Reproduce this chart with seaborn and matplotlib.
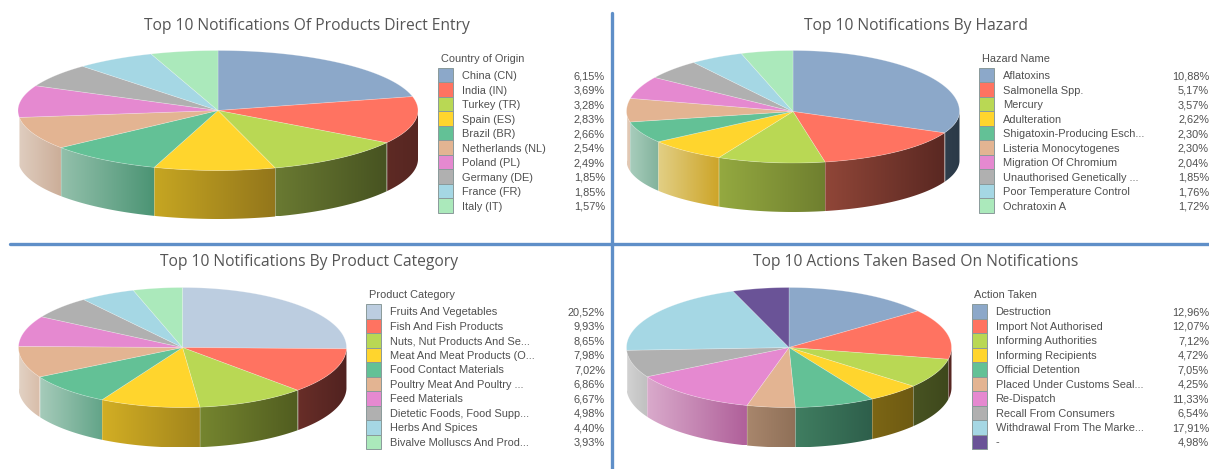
import numpy as np
import matplotlib
matplotlib.use("Agg")
import matplotlib.pyplot as plt
import seaborn as sns
from matplotlib.patches import Rectangle, Polygon

sns.set_theme(style="white")
plt.rcParams['font.family'] = ['Liberation Sans', 'DejaVu Sans']

W, H = 1209, 469

# -------------------------- data --------------------------
origin_names = ["China (CN)", "India (IN)", "Turkey (TR)", "Spain (ES)", "Brazil (BR)",
                "Netherlands (NL)", "Poland (PL)", "Germany (DE)", "France (FR)", "Italy (IT)"]
origin_vals = [6.15, 3.69, 3.28, 2.83, 2.66, 2.54, 2.49, 1.85, 1.85, 1.57]

hazard_names = ["Aflatoxins", "Salmonella Spp.", "Mercury", "Adulteration",
                "Shigatoxin-Producing Esch...", "Listeria Monocytogenes", "Migration Of Chromium",
                "Unauthorised Genetically ...", "Poor Temperature Control", "Ochratoxin A"]
hazard_vals = [10.88, 5.17, 3.57, 2.62, 2.30, 2.30, 2.04, 1.85, 1.76, 1.72]

category_names = ["Fruits And Vegetables", "Fish And Fish Products", "Nuts, Nut Products And Se...",
                  "Meat And Meat Products (O...", "Food Contact Materials", "Poultry Meat And Poultry ...",
                  "Feed Materials", "Dietetic Foods, Food Supp...", "Herbs And Spices",
                  "Bivalve Molluscs And Prod..."]
category_vals = [20.52, 9.93, 8.65, 7.98, 7.02, 6.86, 6.67, 4.98, 4.40, 3.93]

action_names = ["Destruction", "Import Not Authorised", "Informing Authorities", "Informing Recipients",
                "Official Detention", "Placed Under Customs Seal...", "Re-Dispatch", "Recall From Consumers",
                "Withdrawal From The Marke...", "-"]
action_vals = [12.96, 12.07, 7.12, 4.72, 7.05, 4.25, 11.33, 6.54, 17.91, 4.98]

# -------------------------- colours --------------------------
base = ["#8ca8c9", "#ff7361", "#b9d854", "#ffd52d", "#63c196",
        "#e3b492", "#e589d0", "#b0b0b0", "#a5d7e4", "#abe9bb"]
pal_origin = sns.color_palette(base)
pal_category = sns.color_palette(["#bccde0"] + base[1:])
pal_action = sns.color_palette(base[:9] + ["#6a5397"])

# wall colours of each slice: left and right end of the gradient
wall_origin = {1: ("#5e2a24", "#562622"), 2: ("#6a7a32", "#475321"), 3: ("#c6a622", "#93761b"),
               4: ("#93c0ab", "#4b9474"), 5: ("#dfcdbf", "#ccae99")}
wall_hazard = {0: ("#2f3e4c", "#2b3a48"), 1: ("#904638", "#5a2822"), 2: ("#94a940", "#6f7f2f"),
               3: ("#e2cf85", "#cda529"), 4: ("#a8cdbc", "#82b29c"), 5: ("#e3cbb8", "#e0c4ae")}
wall_category = {1: ("#682e28", "#512220"), 2: ("#75852f", "#515d20"), 3: ("#d2ae24", "#a2851c"),
                 4: ("#a6cbba", "#62a488"), 5: ("#e2d2c4", "#d8bca8")}
wall_action = {0: ("#2f3e4c", "#2b3a48"), 1: ("#5a2822", "#562622"), 2: ("#485322", "#3e481c"),
               3: ("#7c6615", "#6e5a12"), 4: ("#407e61", "#2e5f4b"), 5: ("#a8866c", "#8f7058"),
               6: ("#d9aacb", "#b0609a"), 7: ("#d2d2d2", "#c0c0c0")}

panels = [
    dict(title="Top 10 Notifications Of Products Direct Entry", head="Country of Origin",
         names=origin_names, vals=origin_vals, pal=pal_origin, wall=wall_origin,
         box=(0, 0, 612, 243), tx=307, ty=25.5, cx=218, cy=110.5, rx=200, rtop=60, rbot=60, depth=48.5,
         lx=438, ly=68, vx=605),
    dict(title="Top 10 Notifications By Hazard", head="Hazard Name",
         names=hazard_names, vals=hazard_vals, pal=pal_origin, wall=wall_hazard,
         box=(612, 0, 1209, 243), tx=916.5, ty=25.5, cx=793, cy=111.5, rx=166.5, rtop=61, rbot=51.5, depth=49,
         lx=979, ly=68, vx=1209),
    dict(title="Top 10 Notifications By Product Category", head="Product Category",
         names=category_names, vals=category_vals, pal=pal_category, wall=wall_category,
         box=(0, 243, 612, 469), tx=309, ty=262, cx=182.5, cy=347.5, rx=164, rtop=60, rbot=60, depth=40,
         lx=366, ly=304, vx=605),
    dict(title="Top 10 Actions Taken Based On Notifications", head="Action Taken",
         names=action_names, vals=action_vals, pal=pal_action, wall=wall_action,
         box=(612, 243, 1209, 469), tx=916, ty=262, cx=789, cy=347.5, rx=162.5, rtop=60, rbot=60, depth=40,
         lx=971.5, ly=304, vx=1209),
]


def ell(p, t):
    y = np.cos(t)
    return p["cx"] + p["rx"] * np.sin(t), p["cy"] - y * np.where(y > 0, p["rtop"], p["rbot"])


def draw_pie(ax, p):
    edges = np.r_[0, np.cumsum(p["vals"])] / np.sum(p["vals"]) * 2 * np.pi
    # side walls first, only the front half of the ellipse shows
    for i, (cl, cr) in p["wall"].items():
        t1, t2 = max(edges[i], np.pi / 2), min(edges[i + 1], 3 * np.pi / 2)
        if t2 <= t1:
            continue
        ts = np.linspace(t1, t2, 80)
        xs, ys = ell(p, ts)
        outline = np.c_[np.r_[xs, xs[::-1]], np.r_[ys, ys[::-1] + p["depth"]]]
        clip = Polygon(outline, closed=True, facecolor="none", edgecolor="none", transform=ax.transData)
        ax.add_patch(clip)
        grad = np.linspace(matplotlib.colors.to_rgb(cl), matplotlib.colors.to_rgb(cr), 64)[None, :, :]
        im = ax.imshow(grad, extent=(xs.min(), xs.max(), ys.max() + p["depth"], ys.min()),
                       aspect="auto", interpolation="bilinear", zorder=2)
        im.set_clip_path(clip)
        ax.plot([xs[-1], xs[-1]], [ys[-1], ys[-1] + p["depth"]], color="white", alpha=.2, lw=.7, zorder=3)
    # top face
    for i in range(len(p["vals"])):
        ts = np.linspace(edges[i], edges[i + 1], 80)
        xs, ys = ell(p, ts)
        ax.fill(np.r_[p["cx"], xs], np.r_[p["cy"], ys], facecolor=p["pal"][i],
                edgecolor=(1, 1, 1, .3), lw=.5, zorder=4)


def draw_legend(ax, p):
    lx, ly, rh = p["lx"], p["ly"], 14.5
    ax.text(lx + 3, ly - 9, p["head"], ha="left", va="center", fontsize=7.9, color="#505050")
    for i, (name, v) in enumerate(zip(p["names"], p["vals"])):
        ax.add_patch(Rectangle((lx, ly + i * rh), 15, rh, facecolor=p["pal"][i],
                               edgecolor="#8a9a9a", lw=.7, zorder=3))
        yc = ly + (i + .5) * rh + .8
        ax.text(lx + 24, yc, name, ha="left", va="center", fontsize=7.9, color="#505050")
        ax.text(p["vx"], yc, f"{v:.2f}%".replace(".", ","), ha="right", va="center",
                fontsize=7.9, color="#505050")


fig = plt.figure(figsize=(W / 100, H / 100), dpi=100, facecolor="white")
for p in panels:
    x0, y0, x1, y1 = p["box"]
    ax = fig.add_axes([x0 / W, 1 - y1 / H, (x1 - x0) / W, (y1 - y0) / H])
    draw_pie(ax, p)
    draw_legend(ax, p)
    ax.set_xlim(x0, x1)
    ax.set_ylim(y1, y0)
    ax.axis("off")
    ax.set_title(p["title"], x=(p["tx"] - x0) / (x1 - x0), y=(y1 - p["ty"]) / (y1 - y0), va="center", pad=0,
                 fontsize=11.25, color="#555555", family=["Open Sans", "DejaVu Sans"])

# blue dividers between the panels
fig.add_artist(plt.Line2D([612.5 / W, 612.5 / W], [0, 1 - 13 / H], color="#5f8fc8", lw=2.4))
fig.add_artist(plt.Line2D([10 / W, 1], [1 - 244 / H, 1 - 244 / H], color="#5f8fc8", lw=2.4))

fig.savefig("out.png", dpi=100, facecolor="white")
